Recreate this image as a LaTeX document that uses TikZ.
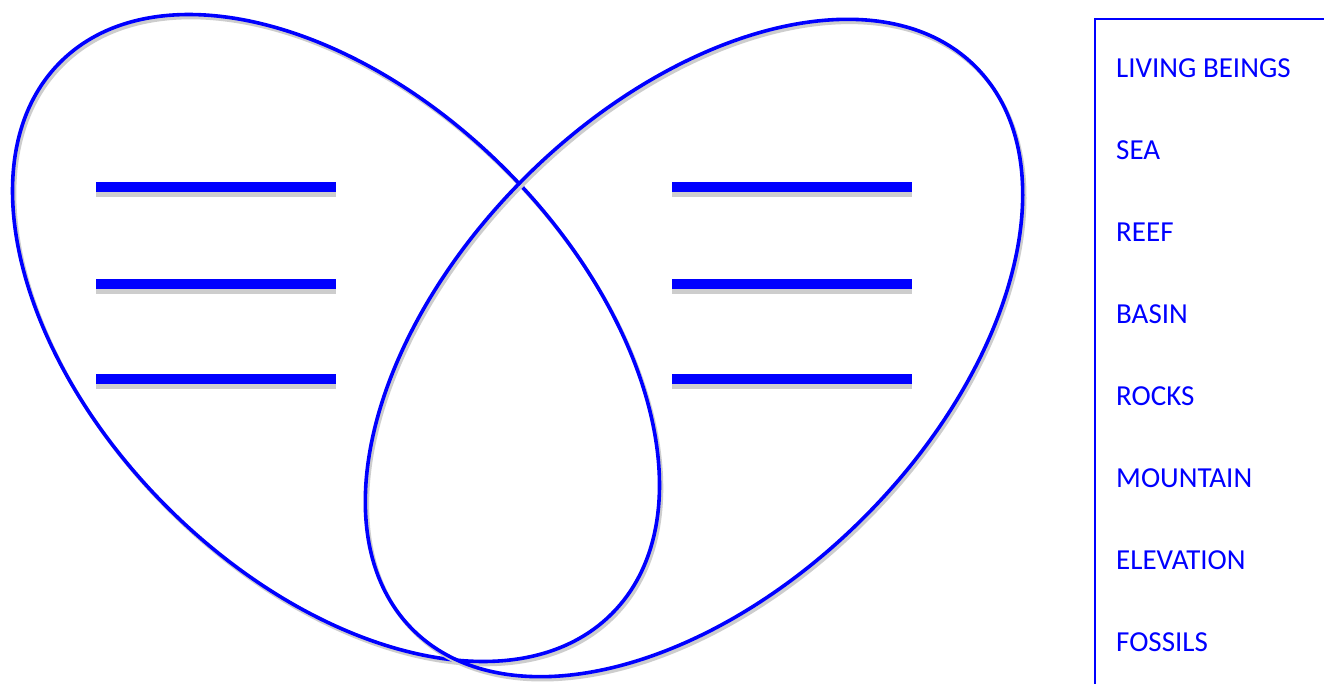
\documentclass[tikz,border=0pt]{standalone}
\usepackage{fontspec}
\setmainfont{Carlito}
\usepackage{tikz}
\usetikzlibrary{positioning}
\definecolor{VennBlue}{RGB}{0,0,255}
\definecolor{ShadowGray}{RGB}{205,205,205}

\begin{document}
\begin{tikzpicture}[
  x=1pt, y=-1pt,
  node distance=82pt,
  ring/.style={draw=VennBlue, line width=3.6pt,
               preaction={draw=ShadowGray, line width=3.6pt, transform canvas={shift={(2pt,-3pt)}}}},
  blank/.style={draw=VennBlue, line width=9.5pt,
                preaction={draw=ShadowGray, line width=9.5pt, transform canvas={yshift=-5.4pt}}},
  wordbox/.style={draw=VennBlue, line width=1.6pt},
  word/.style={font=\fontsize{29}{34}\selectfont, text=VennBlue, inner sep=0pt, anchor=west}
]
\clip (0,0) rectangle (1324,684);
\fill[white] (0,0) rectangle (1324,684);
% the two circles of the diagram
\coordinate (lc) at (336,338);
\coordinate (rc) at (694,348);
\draw[ring, rotate around={-45:(lc)}] (lc) ellipse [x radius=390, y radius=239];
\draw[ring, rotate around={45:(rc)}] (rc) ellipse [x radius=398, y radius=240];
% blanks to write on
\draw[blank] (96,187) -- (336,187);
\draw[blank] (96,284) -- (336,284);
\draw[blank] (96,379) -- (336,379);
\draw[blank] (672,187) -- (912,187);
\draw[blank] (672,284) -- (912,284);
\draw[blank] (672,379) -- (912,379);
% word bank
\draw[wordbox] (1095,19) rectangle (1340,700);
\node[word] (living) at (1116,68) {LIVING BEINGS};
\node[word, below=of living.west, anchor=west] (sea) {SEA};
\node[word, below=of sea.west, anchor=west] (reef) {REEF};
\node[word, below=of reef.west, anchor=west] (basin) {BASIN};
\node[word, below=of basin.west, anchor=west] (rocks) {ROCKS};
\node[word, below=of rocks.west, anchor=west] (mountain) {MOUNTAIN};
\node[word, below=of mountain.west, anchor=west] (elevation) {ELEVATION};
\node[word, below=of elevation.west, anchor=west] (fossils) {FOSSILS};
\end{tikzpicture}
\end{document}
